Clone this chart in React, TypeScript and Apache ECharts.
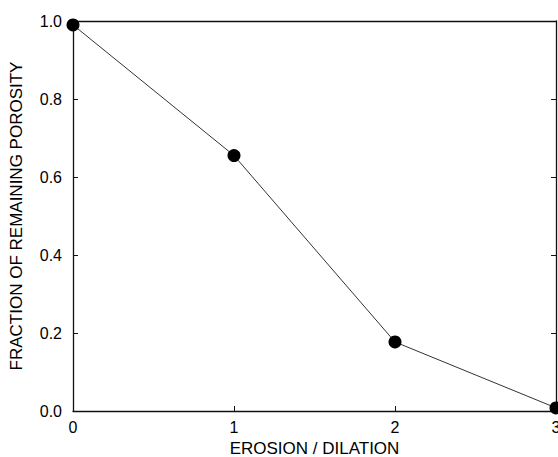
import React, { useEffect, useRef } from "react";
import * as echarts from "echarts";

const xValues = [0, 1, 2, 3];
const porosity = [0.99, 0.655, 0.177, 0.008];
const xTicks = [0, 1, 2, 3];
const yTicks = [0, 0.2, 0.4, 0.6, 0.8, 1.0];

export default function App() {
  const ref = useRef<HTMLDivElement>(null);
  useEffect(() => {
    if (!ref.current) return;
    const chart = echarts.init(ref.current, null, { renderer: "svg" });
    const font = "Liberation Sans, Arial, Helvetica, sans-serif";
    chart.setOption({
      animation: false,
      backgroundColor: "#ffffff",
      grid: { left: 73, right: 2, top: 21, bottom: 46, containLabel: false, outerBoundsMode: "none" },
      xAxis: [
        {
          type: "value",
          min: xTicks[0],
          max: xTicks[xTicks.length - 1],
          interval: 1,
          name: "EROSION / DILATION",
          nameLocation: "middle",
          nameGap: 29,
          nameTextStyle: { color: "#000", fontSize: 17, fontFamily: font },
          axisLine: { show: true, onZero: false, lineStyle: { color: "#111", width: 1.3 } },
          axisTick: { show: true, inside: true, length: 5, lineStyle: { color: "#111" } },
          axisLabel: { color: "#000", fontSize: 16, fontFamily: font, margin: 8 },
          splitLine: { show: false },
        },
        {
          type: "value",
          position: "top",
          min: 0,
          max: 3,
          interval: 1,
          axisLine: { show: true, onZero: false, lineStyle: { color: "#111", width: 1.3 } },
          axisTick: { show: false },
          axisLabel: { show: false },
          splitLine: { show: false },
        },
      ],
      yAxis: [
        {
          type: "value",
          min: yTicks[0],
          max: yTicks[yTicks.length - 1],
          interval: 0.2,
          name: "FRACTION OF REMAINING POROSITY",
          nameLocation: "middle",
          nameGap: 48,
          nameRotate: 90,
          nameTextStyle: { color: "#000", fontSize: 17, fontFamily: font },
          axisLine: { show: true, onZero: false, lineStyle: { color: "#111", width: 1.3 } },
          axisTick: { show: true, inside: true, length: 5, lineStyle: { color: "#111" } },
          axisLabel: {
            color: "#000",
            fontSize: 16,
            fontFamily: font,
            margin: 11,
            formatter: (v: number) => v.toFixed(1),
          },
          splitLine: { show: false },
        },
        {
          type: "value",
          position: "right",
          min: 0,
          max: 1,
          interval: 0.2,
          axisLine: { show: true, onZero: false, lineStyle: { color: "#111", width: 1.3 } },
          axisTick: { show: true, inside: true, length: 5, lineStyle: { color: "#111" } },
          axisLabel: { show: false },
          splitLine: { show: false },
        },
      ],
      series: [
        {
          type: "line",
          data: xValues.map((x, i) => [x, porosity[i]]),
          symbol: "circle",
          symbolSize: 13,
          itemStyle: { color: "#000" },
          lineStyle: { color: "#333", width: 1 },
          z: 3,
        },
      ],
    });
    return () => chart.dispose();
  }, []);
  return <div ref={ref} style={{ width: 558, height: 457, position: "absolute", left: 0, top: 0 }} />;
}
